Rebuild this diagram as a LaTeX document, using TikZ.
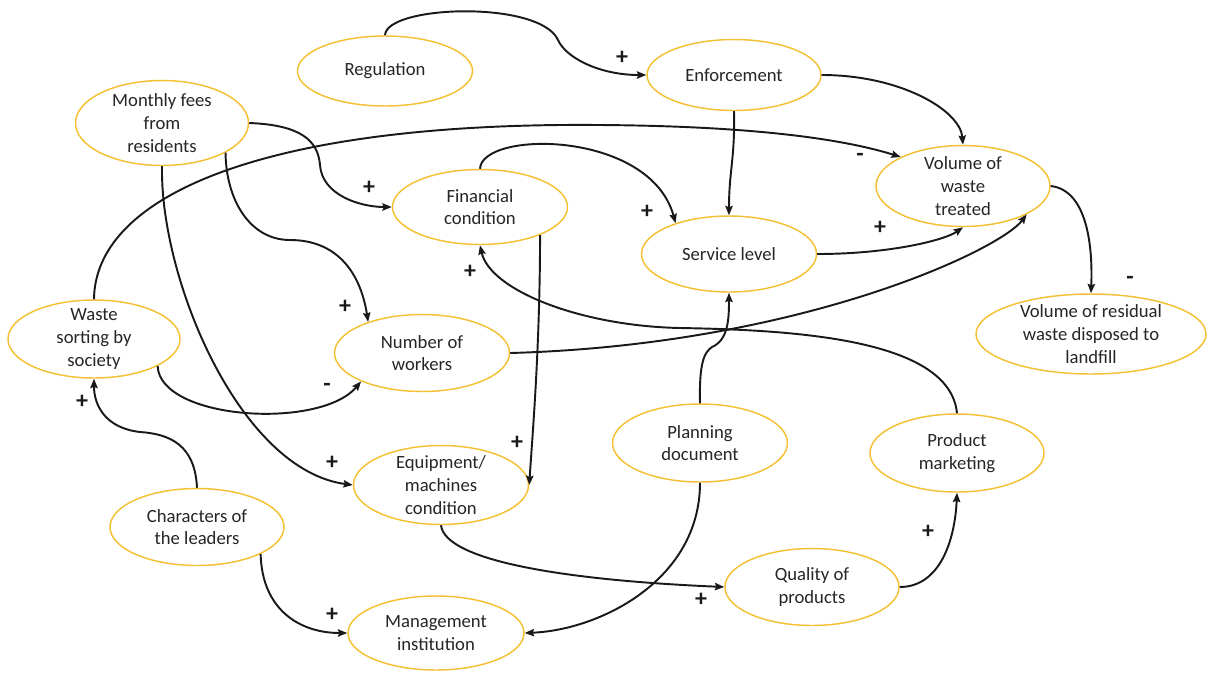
\documentclass[tikz,border=0pt]{standalone}
\usepackage{fontspec}
\setmainfont{Carlito}
\usetikzlibrary{shapes.geometric,arrows.meta}
\definecolor{gold}{RGB}{244,192,52}
\definecolor{ink}{RGB}{25,25,25}
\definecolor{textgray}{RGB}{38,38,38}
\begin{document}
\begin{tikzpicture}[x=0.75pt,y=-0.75pt,
  bub/.style 2 args={ellipse, draw=gold, line width=1.1pt, fill=white,
    minimum width=#1*0.75pt, minimum height=#2*0.75pt, inner sep=0pt},
  lbl/.style={align=center, text=textgray, font=\fontsize{14}{17}\selectfont},
  link/.style={draw=ink, line width=1.45pt, -{Stealth[length=7pt,width=5.5pt,inset=1pt]}},
  sign/.style={text=ink, font=\fontsize{18}{18}\selectfont\bfseries, inner sep=0pt}]
\useasboundingbox (0,0) rectangle (1207,672);

% factors
\node[bub={175}{70}, label={[lbl]center:Regulation}] (reg) at (385,71) {};
\node[bub={174}{71}, label={[lbl]center:Enforcement}] (enf) at (734,75) {};
\node[bub={173}{85}, label={[lbl]center:Monthly fees\\from\\residents}] (mfr) at (162,123) {};
\node[bub={175}{75}, label={[lbl]center:Financial\\condition}] (fin) at (480,207) {};
\node[bub={174}{81}, label={[lbl]center:Volume of\\waste\\treated}] (vwt) at (963,186) {};
\node[bub={175}{76}, label={[lbl]center:Service level}] (svc) at (729,254) {};
\node[bub={230}{80}, label={[lbl]center:Volume of residual\\waste disposed to\\landfill}] (vr) at (1091,334) {};
\node[bub={172}{78}, label={[lbl]center:Waste\\sorting by\\society}] (ws) at (94,339) {};
\node[bub={175}{77}, label={[lbl]center:Number of\\workers}] (nw) at (422,353) {};
\node[bub={175}{78}, label={[lbl]center:Planning\\document}] (plan) at (700,443) {};
\node[bub={174}{78}, label={[lbl]center:Product\\marketing}] (pm) at (957,453) {};
\node[bub={175}{79}, label={[lbl]center:Equipment/\\machines\\condition}] (eq) at (441,485) {};
\node[bub={174}{77}, label={[lbl]center:Characters of\\the leaders}] (ch) at (197,527) {};
\node[bub={174}{77}, label={[lbl]center:Quality of\\products}] (qp) at (812,587) {};
\node[bub={176}{74}, label={[lbl]center:Management\\institution}] (mg) at (436,633) {};

% causal links
\draw[link] (reg.north) .. controls (386,5) and (540,0) .. (558,40)
  .. controls (566,58) and (600,75) .. (enf.west);
\draw[link] (enf.east) .. controls (900,75) and (960,110) .. (vwt.north);
\draw[link] (enf.south) .. controls (735,160) and (729,170) .. (svc.north);
\draw[link] (mfr.east) .. controls (300,125) and (318,140) .. (320,165)
  .. controls (322,195) and (360,207) .. (fin.west);
\draw[link] (mfr.-25) .. controls (226,200) and (250,240) .. (290,240)
  .. controls (335,240) and (360,270) .. (nw.150);
\draw[link] (mfr.south) .. controls (160,280) and (240,470) .. (eq.west);
\draw[link] (fin.north) .. controls (482,130) and (650,130) .. (svc.150);
\draw[link] (fin.-25) .. controls (540,350) and (532,440) .. (eq.east);
\draw[link] (pm.north) .. controls (950,340) and (800,330) .. (680,328)
  .. controls (580,326) and (490,290) .. (fin.south);
\draw[link] (ws.north) .. controls (95,200) and (250,128) .. (560,125)
  .. controls (720,124) and (830,135) .. (vwt.155);
\draw[link] (ws.-23) .. controls (160,420) and (320,430) .. (nw.205);
\draw[link] (nw.east) .. controls (800,345) and (1000,250) .. (vwt.-24);
\draw[link] (svc.east) .. controls (890,254) and (945,240) .. (vwt.south);
\draw[link] (vwt.east) .. controls (1085,190) and (1093,240) .. (vr.north);
\draw[link] (ch.north) .. controls (195,445) and (170,434) .. (140,432)
  .. controls (105,428) and (94,405) .. (ws.south);
\draw[link] (ch.-23) .. controls (262,610) and (300,633) .. (mg.west);
\draw[link] (plan.north) .. controls (699,360) and (705,352) .. (712,347)
  .. controls (728,340) and (729,320) .. (svc.south);
\draw[link] (plan.south) .. controls (700,580) and (600,630) .. (mg.east);
\draw[link] (eq.south) .. controls (445,560) and (560,580) .. (qp.west);
\draw[link] (qp.east) .. controls (940,587) and (955,540) .. (pm.south);

% polarity signs
\node[sign] (s1) at (622,58) {+};
\node[sign] (s2) at (369,188) {+};
\node[sign] (s3) at (647,212) {+};
\node[sign] (s4) at (470,272) {+};
\node[sign] (s5) at (345,307) {+};
\node[sign] (s6) at (327,387) {-};
\node[sign] (s7) at (82,402) {+};
\node[sign] (s8) at (332,463) {+};
\node[sign] (s9) at (517,443) {+};
\node[sign] (s10) at (332,615) {+};
\node[sign] (s11) at (701,600) {+};
\node[sign] (s12) at (928,532) {+};
\node[sign] (s13) at (860,157) {-};
\node[sign] (s14) at (880,228) {+};
\node[sign] (s15) at (1130,280) {-};
\end{tikzpicture}
\end{document}
